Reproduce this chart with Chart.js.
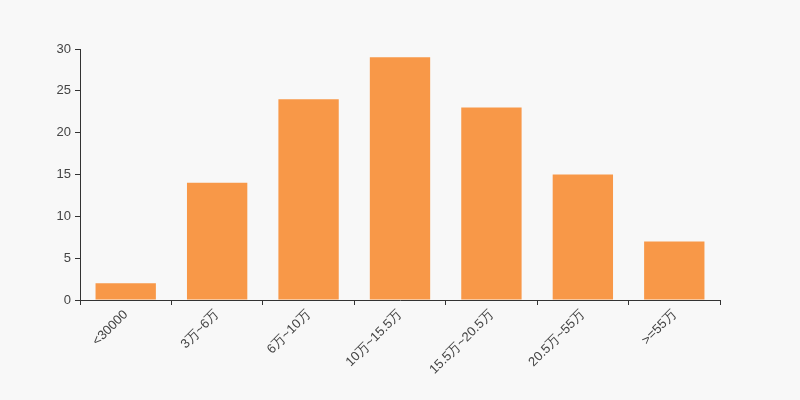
<!DOCTYPE html>
<html><head><meta charset="utf-8">
<script src="https://cdn.jsdelivr.net/npm/chart.js@4/dist/chart.umd.min.js"></script>
<style>html,body{margin:0;padding:0;background:#f8f8f8;}#wrap{width:800px;height:400px;}</style>
</head><body><div id="wrap"><canvas id="c" width="800" height="400"></canvas></div>
<script>
const categories = ["<30000", "3万~6万", "6万~10万", "10万~15.5万", "15.5万~20.5万", "20.5万~55万", ">=55万"];
const values = [2, 14, 24, 29, 23, 15, 7];
const yTicks = [0, 5, 10, 15, 20, 25, 30];

Chart.defaults.font.family = "'Liberation Sans', Arial, sans-serif";
Chart.defaults.font.size = 13;
Chart.defaults.color = "#444";

new Chart(document.getElementById('c'), {
  type: 'bar',
  data: { labels: categories, datasets: [{ data: values, backgroundColor: '#f89848', barPercentage: 0.66, categoryPercentage: 1.0 }] },
  options: {
    responsive: false, animation: false,
    layout: { padding: { left: 0, right: 80, top: 49, bottom: 0 } },
    plugins: { legend: { display: false }, tooltip: { enabled: false } },
    scales: {
      x: {
        grid: { drawOnChartArea: false, tickLength: 5, color: '#333', offset: true },
        border: { color: '#333' },
        ticks: { color: '#444', maxRotation: 45, minRotation: 45, padding: 2, font: { size: 13 } },
        afterFit: s => { s.height = 100; }
      },
      y: {
        min: 0, max: 30,
        afterBuildTicks: s => { s.ticks = yTicks.map(v => ({ value: v })); },
        grid: { drawOnChartArea: false, tickLength: 5, color: '#333' },
        border: { color: '#333' },
        ticks: { color: '#444', padding: 4, font: { size: 13 } },
        afterFit: s => { s.width = 80; }
      }
    }
  }
});
</script></body></html>
